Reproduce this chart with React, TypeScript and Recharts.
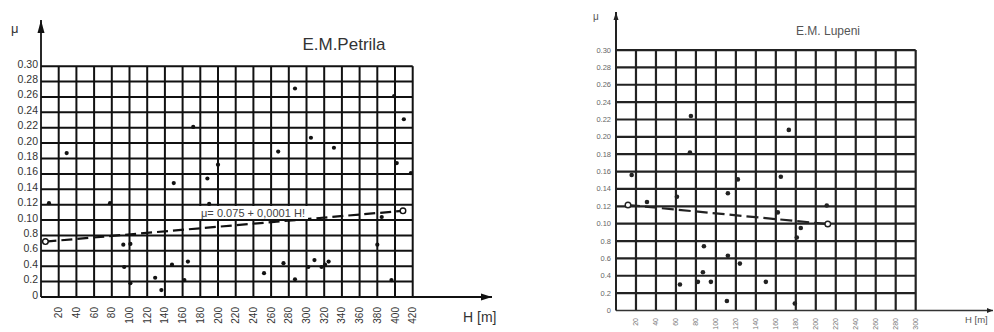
import React from 'react';
import { ScatterChart, Scatter, XAxis, YAxis, ReferenceLine, ReferenceDot } from 'recharts';

const FONT = '"Liberation Sans", Arial, sans-serif';

// μ axis ticks and their printed labels (as printed on the original)
const muTicks = [0, 0.02, 0.04, 0.06, 0.08, 0.1, 0.12, 0.14, 0.16, 0.18, 0.2, 0.22, 0.24, 0.26, 0.28, 0.3];
const muTickLabels = ['0', '0.2', '0.4', '0.6', '0.8', '0.10', '0.12', '0.14', '0.16', '0.18', '0.20', '0.22', '0.24', '0.26', '0.28', '0.30'];

// H axis ticks
const petrilaHTicks = [20, 40, 60, 80, 100, 120, 140, 160, 180, 200, 220, 240, 260, 280, 300, 320, 340, 360, 380, 400, 420];
const lupeniHTicks = [20, 40, 60, 80, 100, 120, 140, 160, 180, 200, 220, 240, 260, 280, 300];

// E.M. Petrila measurements
const petrilaH = [9, 29, 78, 93, 94, 101, 101, 129, 136, 148, 150, 162, 166, 172, 188, 190, 200, 252, 268, 274, 287, 287, 302, 305, 309, 317, 321, 325, 331, 380, 385, 396, 399, 402, 410, 418];
const petrilaMu = [0.122, 0.187, 0.122, 0.068, 0.039, 0.069, 0.018, 0.025, 0.009, 0.042, 0.148, 0.022, 0.046, 0.221, 0.154, 0.121, 0.172, 0.031, 0.189, 0.044, 0.271, 0.023, 0.039, 0.207, 0.048, 0.039, 0.042, 0.046, 0.194, 0.068, 0.104, 0.022, 0.261, 0.174, 0.231, 0.161];
const petrilaFitH = [5, 409];
const petrilaFitMu = [0.072, 0.112];

// E.M. Lupeni measurements
const lupeniH = [15.7, 31, 61, 64, 74, 75, 82, 87, 88, 95, 111, 112, 112, 122, 124, 150, 162, 165, 173, 179, 181, 185, 211];
const lupeniMu = [0.156, 0.125, 0.131, 0.03, 0.182, 0.224, 0.033, 0.044, 0.074, 0.033, 0.011, 0.063, 0.135, 0.151, 0.054, 0.033, 0.113, 0.154, 0.208, 0.008, 0.084, 0.095, 0.121];
const lupeniFitH = [12, 212];
const lupeniFitMu = [0.1215, 0.0996];

const zip = (hs: number[], ms: number[]) => hs.map((h, i) => ({ h, mu: ms[i] }));

const petrilaPts = zip(petrilaH, petrilaMu);
const petrilaFit = zip(petrilaFitH, petrilaFitMu);
const lupeniPts = zip(lupeniH, lupeniMu);
const lupeniFit = zip(lupeniFitH, lupeniFitMu);

const makeYTick = (fontSize: number, fill: string, dy: number) => (props: any) => {
  const { x, y, payload } = props;
  const i = muTicks.indexOf(payload.value);
  return (
    <text x={x} y={y} dy={dy} textAnchor="end" fontSize={fontSize} fill={fill} fontFamily={FONT}>
      {muTickLabels[i]}
    </text>
  );
};

const makeXTick = (fontSize: number, fill: string) => (props: any) => {
  const { x, y, payload } = props;
  return (
    <text
      x={x}
      y={y}
      dy="0.35em"
      transform={`rotate(-90 ${x} ${y})`}
      textAnchor="end"
      fontSize={fontSize}
      fill={fill}
      fontFamily={FONT}
    >
      {payload.value}
    </text>
  );
};

const makeDot = (r: number, fill: string) => (props: any) => (
  <circle cx={props.cx} cy={props.cy} r={r} fill={fill} />
);

const makeOpen = (r: number, stroke: string) => (props: any) => (
  <circle cx={props.cx} cy={props.cy} r={r} fill="#fff" stroke={stroke} strokeWidth={1.4} />
);

const makeUpArrow = (len: number, half: number, fill: string) => (props: any) => (
  <path d={`M${props.cx},${props.cy} L${props.cx - half},${props.cy + len} L${props.cx + half},${props.cy + len} Z`} fill={fill} />
);

const makeRightArrow = (len: number, half: number, fill: string) => (props: any) => (
  <path d={`M${props.cx},${props.cy} L${props.cx - len},${props.cy - half} L${props.cx - len},${props.cy + half} Z`} fill={fill} />
);

function gridLines(hTicks: number[], hMax: number, stroke: string, width: number) {
  const lines: React.ReactNode[] = [];
  muTicks.filter((m) => m > 0).forEach((m) => {
    lines.push(
      <ReferenceLine
        key={'h' + m}
        segment={[{ x: 0, y: m }, { x: hMax, y: m }]}
        stroke={stroke}
        strokeWidth={width}
        ifOverflow="visible"
      />
    );
  });
  hTicks.forEach((h) => {
    lines.push(
      <ReferenceLine
        key={'v' + h}
        segment={[{ x: h, y: 0 }, { x: h, y: 0.3 }]}
        stroke={stroke}
        strokeWidth={width}
        ifOverflow="visible"
      />
    );
  });
  return lines;
}

function PetrilaChart() {
  const xMax = 509.6;
  const yMax = 0.36;
  return (
    <ScatterChart width={500} height={332} margin={{ top: 20, right: 8, bottom: 5, left: 1 }}>
      <XAxis
        type="number"
        dataKey="h"
        domain={[0, xMax]}
        ticks={petrilaHTicks}
        interval={0}
        height={30}
        tickSize={0}
        tickMargin={10}
        tickLine={false}
        axisLine={{ stroke: '#111', strokeWidth: 1.8 }}
        tick={makeXTick(10, '#333')}
        allowDataOverflow
      />
      <YAxis
        type="number"
        dataKey="mu"
        domain={[0, yMax]}
        ticks={muTicks}
        interval={0}
        width={40}
        tickSize={0}
        tickMargin={3}
        tickLine={false}
        axisLine={{ stroke: '#111', strokeWidth: 1.8 }}
        tick={makeYTick(10.5, '#333', 1.5)}
        allowDataOverflow
      />
      {gridLines(petrilaHTicks, 420, '#111', 2)}
      <ReferenceDot x={0} y={yMax} r={0} ifOverflow="visible" shape={makeUpArrow(13, 3.5, '#111')} />
      <ReferenceDot x={xMax} y={0} r={0} ifOverflow="visible" shape={makeRightArrow(11, 3.5, '#111')} />
      <Scatter
        data={petrilaFit}
        isAnimationActive={false}
        line={{ stroke: '#111', strokeWidth: 2.2, strokeDasharray: '11 5' }}
        shape={makeOpen(2.8, '#111')}
      />
      <Scatter data={petrilaPts} isAnimationActive={false} shape={makeDot(2.1, '#111')} />
    </ScatterChart>
  );
}

function LupeniChart() {
  const xMax = 377.4;
  const yMax = 0.3438;
  return (
    <ScatterChart width={434} height={332} margin={{ top: 12, right: 1, bottom: 1.5, left: 0 }}>
      <XAxis
        type="number"
        dataKey="h"
        domain={[0, xMax]}
        ticks={lupeniHTicks}
        interval={0}
        height={20}
        tickSize={0}
        tickMargin={7.5}
        tickLine={false}
        axisLine={{ stroke: '#333', strokeWidth: 1.5 }}
        tick={makeXTick(7, '#777')}
        allowDataOverflow
      />
      <YAxis
        type="number"
        dataKey="mu"
        domain={[0, yMax]}
        ticks={muTicks}
        interval={0}
        width={56}
        tickSize={0}
        tickMargin={5}
        tickLine={false}
        axisLine={{ stroke: '#222', strokeWidth: 2 }}
        tick={makeYTick(7.5, '#666', 2.5)}
        allowDataOverflow
      />
      {gridLines(lupeniHTicks, 300, '#222', 2.2)}
      <ReferenceDot x={0} y={yMax} r={0} ifOverflow="visible" shape={makeUpArrow(8, 2.5, '#222')} />
      <ReferenceDot x={xMax} y={0} r={0} ifOverflow="visible" shape={makeRightArrow(6, 2.5, '#222')} />
      <Scatter
        data={lupeniFit}
        isAnimationActive={false}
        line={{ stroke: '#222', strokeWidth: 2.2, strokeDasharray: '12 5' }}
        shape={makeOpen(2.8, '#222')}
      />
      <Scatter data={lupeniPts} isAnimationActive={false} shape={makeDot(2.3, '#222')} />
    </ScatterChart>
  );
}

export default function App() {
  return (
    <div style={{ position: 'absolute', left: 0, top: 0, width: 994, height: 332, background: '#fff', overflow: 'hidden' }}>
      <div style={{ position: 'absolute', left: 0, top: 0 }}>
        <PetrilaChart />
      </div>
      <div style={{ position: 'absolute', left: 560, top: 0 }}>
        <LupeniChart />
      </div>
      <svg
        width={994}
        height={332}
        style={{ position: 'absolute', left: 0, top: 0, pointerEvents: 'none' }}
        fontFamily={FONT}
      >
        <text x={11} y={33} fontSize={13} fill="#333">μ</text>
        <text x={344} y={50} fontSize={17} fill="#333" textAnchor="middle">E.M.Petrila</text>
        <text x={463} y={322} fontSize={14} fill="#333">H [m]</text>
        <rect x={199} y={206} width={109} height={13} fill="#fff" />
        <text x={201} y={217} fontSize={11} fill="#444" textLength={104} lengthAdjust="spacing">μ= 0.075 + 0,0001 H!</text>
        <text x={593} y={20} fontSize={10} fill="#555">μ</text>
        <text x={828} y={35} fontSize={12} fill="#555" textAnchor="middle">E.M. Lupeni</text>
        <text x={965} y={323} fontSize={9.5} fill="#555">H [m]</text>
      </svg>
    </div>
  );
}
